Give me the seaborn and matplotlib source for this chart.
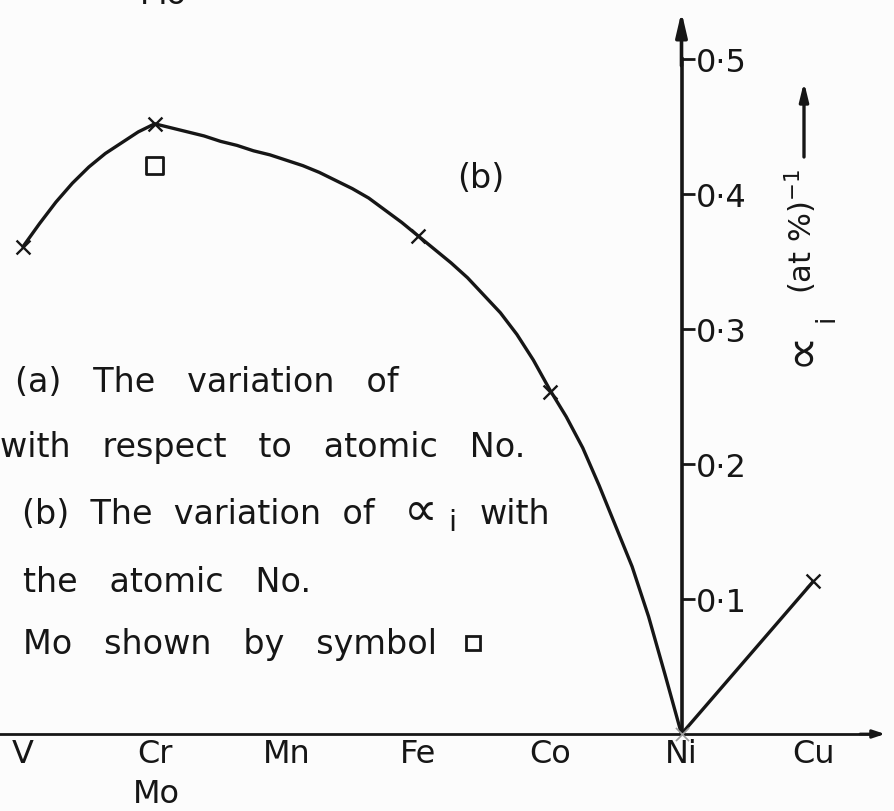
import numpy as np
import pandas as pd
import seaborn as sns
import matplotlib
matplotlib.use("Agg")
import matplotlib.pyplot as plt
from matplotlib.ticker import FixedLocator, FixedFormatter

# ---------------- data ----------------
elements = ["V", "Cr", "Mn", "Fe", "Co", "Ni", "Cu"]
yticks = [0.1, 0.2, 0.3, 0.4, 0.5]
ytick_labels = ["0·1", "0·2", "0·3", "0·4", "0·5"]

# measured points (crosses)
point_elems = ["V", "Cr", "Fe", "Co", "Cu"]
point_vals = [0.361, 0.452, 0.369, 0.253, 0.113]

# Ni point (zero)
ni_val = 0.0

# Mo (square symbol, plotted at Cr position)
mo_pos_elem = "Cr"
mo_val = 0.421

# hand-drawn curve V -> Ni (every 1/8 element)
curve_pos = [0.0, 0.125, 0.25, 0.375, 0.5, 0.625, 0.75, 0.875,
             1.0, 1.125, 1.25, 1.375, 1.5, 1.625, 1.75, 1.875,
             2.0, 2.125, 2.25, 2.375, 2.5, 2.625, 2.75, 2.875,
             3.0, 3.125, 3.25, 3.375, 3.5, 3.625, 3.75, 3.875,
             4.0, 4.125, 4.25, 4.375, 4.5, 4.625, 4.75, 4.875, 5.0]
curve_val = [0.361, 0.378, 0.394, 0.408, 0.420, 0.430, 0.438, 0.446,
             0.452, 0.449, 0.446, 0.443, 0.439, 0.436, 0.432, 0.429,
             0.425, 0.421, 0.416, 0.410, 0.404, 0.397, 0.388, 0.379,
             0.369, 0.359, 0.349, 0.338, 0.325, 0.312, 0.296, 0.277,
             0.255, 0.235, 0.212, 0.184, 0.154, 0.124, 0.087, 0.044, 0.0]

# straight segment Ni -> Cu
seg_elems = ["Ni", "Cu"]
seg_vals = [0.0, 0.113]

# ---------------- figure ----------------
sns.set_theme(style="white")
plt.rcParams["font.family"] = ["DejaVu Sans"]
plt.rcParams["mathtext.fontset"] = "dejavusans"

INK = "#161616"
BG = "#fcfcfc"
FS = 24

W, H = 894, 812
fig = plt.figure(figsize=(W / 100, H / 100), dpi=100, facecolor=BG)
ax = fig.add_axes([0, 0, 1, 1], facecolor=BG)

idx = {e: i for i, e in enumerate(elements)}

curve_df = pd.DataFrame({"pos": curve_pos, "val": curve_val})
sns.lineplot(data=curve_df, x="pos", y="val", ax=ax, color=INK, lw=2.4,
             sort=False, estimator=None)
for ln in ax.lines:
    ln.set_solid_joinstyle("round")

seg_df = pd.DataFrame({"pos": [idx[e] for e in seg_elems], "val": seg_vals})
sns.lineplot(data=seg_df, x="pos", y="val", ax=ax, color=INK, lw=2.4,
             sort=False, estimator=None)

pts_df = pd.DataFrame({"pos": [idx[e] for e in point_elems], "val": point_vals})
sns.scatterplot(data=pts_df, x="pos", y="val", ax=ax, marker="x", s=100,
                color=INK, linewidth=1.7, zorder=5)
sns.scatterplot(x=[idx["Ni"]], y=[ni_val], ax=ax, marker="x", s=90,
                color="#9a9a9a", linewidth=1.2, zorder=5)

mo_df = pd.DataFrame({"pos": [idx[mo_pos_elem]], "val": [mo_val]})
sns.scatterplot(data=mo_df, x="pos", y="val", ax=ax, marker="s", s=140,
                facecolor="none", edgecolor=INK, linewidth=2.0, zorder=5)

# ---------------- axes geometry (pixel mapping) ----------------
px_per_unit = 131.7
x0_px = 23.0
zero_px = 735.0
px_per_val = 1350.0
ax.set_xlim((0 - x0_px) / px_per_unit, (W - x0_px) / px_per_unit)
ax.set_ylim((zero_px - H) / px_per_val, zero_px / px_per_val)
ax.set_xlabel("")
ax.set_ylabel("")
ax.grid(False)

for s in ["top", "left"]:
    ax.spines[s].set_visible(False)

# bottom axis: horizontal baseline at zero with upward ticks
ax.spines["bottom"].set_position(("data", 0))
ax.spines["bottom"].set_color(INK)
ax.spines["bottom"].set_linewidth(2.0)
ax.spines["bottom"].set_bounds((0 - x0_px) / px_per_unit, (878 - x0_px) / px_per_unit)
ax.xaxis.set_major_locator(FixedLocator(list(range(len(elements)))))
ax.xaxis.set_major_formatter(FixedFormatter(elements))
ax.tick_params(axis="x", direction="in", length=14, width=2.0, colors=INK,
               labelsize=FS - 1, pad=3)

# vertical axis through Ni
ax.spines["right"].set_position(("data", idx["Ni"]))
ax.spines["right"].set_color(INK)
ax.spines["right"].set_linewidth(2.6)
ax.spines["right"].set_bounds(0, 0.5)
ax.yaxis.set_ticks_position("right")
ax.yaxis.set_major_locator(FixedLocator(yticks))
ax.yaxis.set_major_formatter(FixedFormatter(ytick_labels))
ax.tick_params(axis="y", direction="out", length=9, width=2.0, colors=INK,
               labelsize=FS - 1, pad=1, left=False, labelleft=False,
               right=True, labelright=True)

# arrow heads on axes
ax.annotate("", xy=(idx["Ni"], 0.535), xytext=(idx["Ni"], 0.495),
            arrowprops=dict(arrowstyle="-|>,head_length=1.2,head_width=0.28",
                            color=INK, lw=2.6, shrinkA=0, shrinkB=0))
ax.annotate("", xy=((885 - x0_px) / px_per_unit, 0),
            xytext=((860 - x0_px) / px_per_unit, 0),
            arrowprops=dict(arrowstyle="-|>,head_length=0.6,head_width=0.2",
                            color=INK, lw=2.0, shrinkA=0, shrinkB=0))


def fx(px):
    return px / W


def fy(py):
    return 1 - py / H


# y-axis label (rotated), built from pieces so the alpha sign is large
fig.text(fx(800), fy(348), "∝", rotation=90, ha="center", va="center",
         fontsize=36, color=INK)
fig.text(fx(826), fy(318), "i", rotation=90, ha="center", va="center",
         fontsize=FS - 5, color=INK)
fig.text(fx(801), fy(232), "(at %)$^{-1}$", rotation=90, ha="center",
         va="center", fontsize=FS - 2, color=INK)
ax.annotate("", xy=((804 - x0_px) / px_per_unit, (zero_px - 83) / px_per_val),
            xytext=((804 - x0_px) / px_per_unit, (zero_px - 158) / px_per_val),
            arrowprops=dict(arrowstyle="-|>,head_length=0.9,head_width=0.22",
                            color=INK, lw=2.4, shrinkA=0, shrinkB=0))

# second label line under Cr
fig.text(fx(156), fy(795), "Mo", ha="center", va="center", fontsize=FS - 1, color=INK)
# cut-off "Mo" at the top
fig.text(fx(163), fy(-5), "Mo", ha="center", va="center", fontsize=FS - 1, color=INK)

# panel label
fig.text(fx(481), fy(179), "(b)", ha="center", va="center", fontsize=FS, color=INK)

# caption text
fig.text(fx(15), fy(382), "(a)   The   variation   of", ha="left", va="center",
         fontsize=FS, color=INK)
fig.text(fx(0), fy(448), "with   respect   to   atomic   No.", ha="left",
         va="center", fontsize=FS, color=INK)
fig.text(fx(22), fy(515), "(b)  The  variation  of", ha="left",
         va="center", fontsize=FS, color=INK)
fig.text(fx(421), fy(513), "∝", ha="center", va="center", fontsize=34, color=INK)
fig.text(fx(452), fy(523), "i", ha="center", va="center", fontsize=FS - 3, color=INK)
fig.text(fx(480), fy(515), "with", ha="left", va="center", fontsize=FS, color=INK)
fig.text(fx(23), fy(583), "the   atomic   No.", ha="left", va="center",
         fontsize=FS, color=INK)
fig.text(fx(23), fy(645), "Mo   shown   by   symbol", ha="left", va="center",
         fontsize=FS, color=INK)
# the legend square after the caption
legend_sq_x = (473 - x0_px) / px_per_unit
legend_sq_y = (zero_px - 644) / px_per_val
ax.plot([legend_sq_x], [legend_sq_y], marker="s", ms=10, mfc="none",
        mec=INK, mew=2.0, linestyle="none")

fig.savefig("out.png", dpi=100, facecolor=BG)
